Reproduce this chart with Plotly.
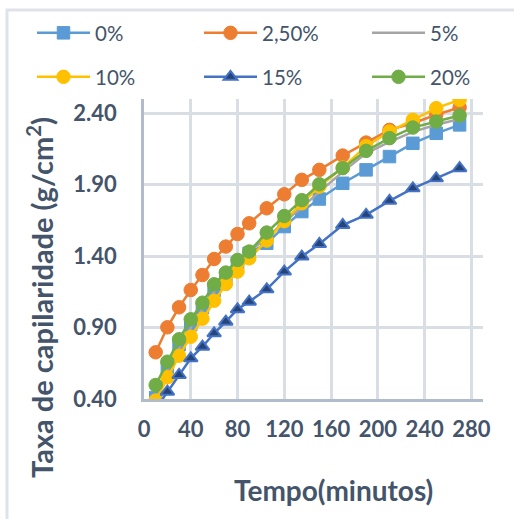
import plotly.graph_objects as go

tempo = [10, 20, 30, 40, 50, 60, 70, 80, 90, 105, 120, 135, 150, 170, 190, 210, 230, 250, 270]

s0 = [0.41, 0.62, 0.78, 0.92, 1.04, 1.16, 1.26, 1.35, 1.42, 1.49, 1.607, 1.712, 1.80, 1.91, 2.004, 2.097, 2.19, 2.26, 2.319]
s250 = [0.727, 0.902, 1.042, 1.163, 1.268, 1.380, 1.467, 1.555, 1.630, 1.735, 1.833, 1.934, 2.004, 2.104, 2.195, 2.284, 2.33, 2.39, 2.44]
s5 = [0.45, 0.60, 0.76, 0.90, 1.03, 1.15, 1.25, 1.35, 1.43, 1.53, 1.64, 1.74, 1.85, 1.99, 2.12, 2.20, 2.27, 2.32, 2.36]
s10 = [0.39, 0.552, 0.703, 0.836, 0.962, 1.088, 1.205, 1.292, 1.385, 1.509, 1.645, 1.770, 1.887, 2.02, 2.17, 2.272, 2.354, 2.436, 2.494]
s15 = [0.33, 0.451, 0.568, 0.685, 0.766, 0.860, 0.941, 1.028, 1.081, 1.168, 1.292, 1.397, 1.485, 1.618, 1.689, 1.787, 1.875, 1.945, 2.016]
s20 = [0.498, 0.661, 0.818, 0.958, 1.074, 1.203, 1.285, 1.373, 1.432, 1.565, 1.681, 1.792, 1.903, 2.016, 2.137, 2.226, 2.30, 2.342, 2.384]

names = ["0%", "2,50%", "5%", "10%", "15%", "20%"]
x_ticks = [0, 40, 80, 120, 160, 200, 240, 280]
y_ticks = [0.40, 0.90, 1.40, 1.90, 2.40]

TXT = "#44546A"
FONT = "Lato"

L, R, T, B = 144, 31, 99, 120
W, H = 514, 519
pw, ph = W - L - R, H - T - B

def px(xp):
    return (xp - L) / pw

def py(yp):
    return (H - B - yp) / ph

fig = go.Figure()
legend_ids = ["legend", "legend2", "legend3", "legend4", "legend5", "legend6"]

def add(i, y, color, symbol, size, fill=None, mline=None, mode="lines+markers"):
    fig.add_trace(go.Scatter(
        x=tempo, y=y, name=names[i], mode=mode, legend=legend_ids[i],
        line=dict(color=color, width=2.5),
        marker=dict(symbol=symbol, size=size, color=fill or color,
                    line=dict(color=mline or color, width=2 if mline else 1)),
    ))

add(0, s0, "#5B9BD5", "square", 12.5)
add(1, s250, "#ED7D31", "circle", 13.5)
add(2, s5, "#A5A5A5", "circle", 1, mode="lines")
add(3, s10, "#FFC000", "circle", 13.5)
add(4, s15, "#4472C4", "triangle-up", 12, fill="#264478", mline="#4472C4")
add(5, s20, "#70AD47", "circle", 13.5)

leg_common = dict(orientation="h", xanchor="left", yanchor="middle", itemwidth=53,
                  font=dict(family=FONT, size=20.5, color=TXT),
                  bgcolor="rgba(0,0,0,0)")

col_x = [32, 199, 367]
row_y = [33, 77]
legends = {}
for i, lid in enumerate(legend_ids):
    legends[lid] = dict(x=px(col_x[i % 3]), y=py(row_y[i // 3]), **leg_common)

fig.update_layout(
    width=W, height=H,
    margin=dict(l=L, r=R, t=T, b=B, pad=0),
    paper_bgcolor="white", plot_bgcolor="white",
    showlegend=True,
    **legends,
    xaxis=dict(range=[0, 290], tickvals=x_ticks, showgrid=True, gridcolor="#D9DDE4", gridwidth=2.5,
               showline=True, linecolor="#B0BCCC", linewidth=2.5, zeroline=False, ticks="",
               tickfont=dict(family=FONT, size=22, color=TXT, weight="bold"), ticklabelstandoff=9),
    yaxis=dict(range=[0.4, 2.5], tickvals=y_ticks, tickformat=".2f", showgrid=True, gridcolor="#D9DDE4",
               gridwidth=2.5, showline=True, linecolor="#B0BCCC", linewidth=2.5, zeroline=False, ticks="",
               tickfont=dict(family=FONT, size=22, color=TXT, weight="bold"), ticklabelstandoff=20),
    annotations=[
        dict(text="Tempo(minutos)", xref="paper", yref="paper", x=px(333), y=py(490),
             showarrow=False, xanchor="center", yanchor="middle",
             font=dict(family=FONT, size=28, color=TXT, weight="bold")),
        dict(text="Taxa de capilaridade (g/cm<sup>2</sup>)", xref="paper", yref="paper", x=px(40), y=py(298),
             showarrow=False, xanchor="center", yanchor="middle", textangle=-90,
             font=dict(family=FONT, size=29, color=TXT, weight="bold")),
    ],
    shapes=[dict(type="rect", xref="paper", yref="paper", x0=px(7), y0=py(560), x1=px(560), y1=py(10),
                 line=dict(color="#DFE3E9", width=3), fillcolor="rgba(0,0,0,0)", layer="below")],
)

fig.write_html("out.html")
